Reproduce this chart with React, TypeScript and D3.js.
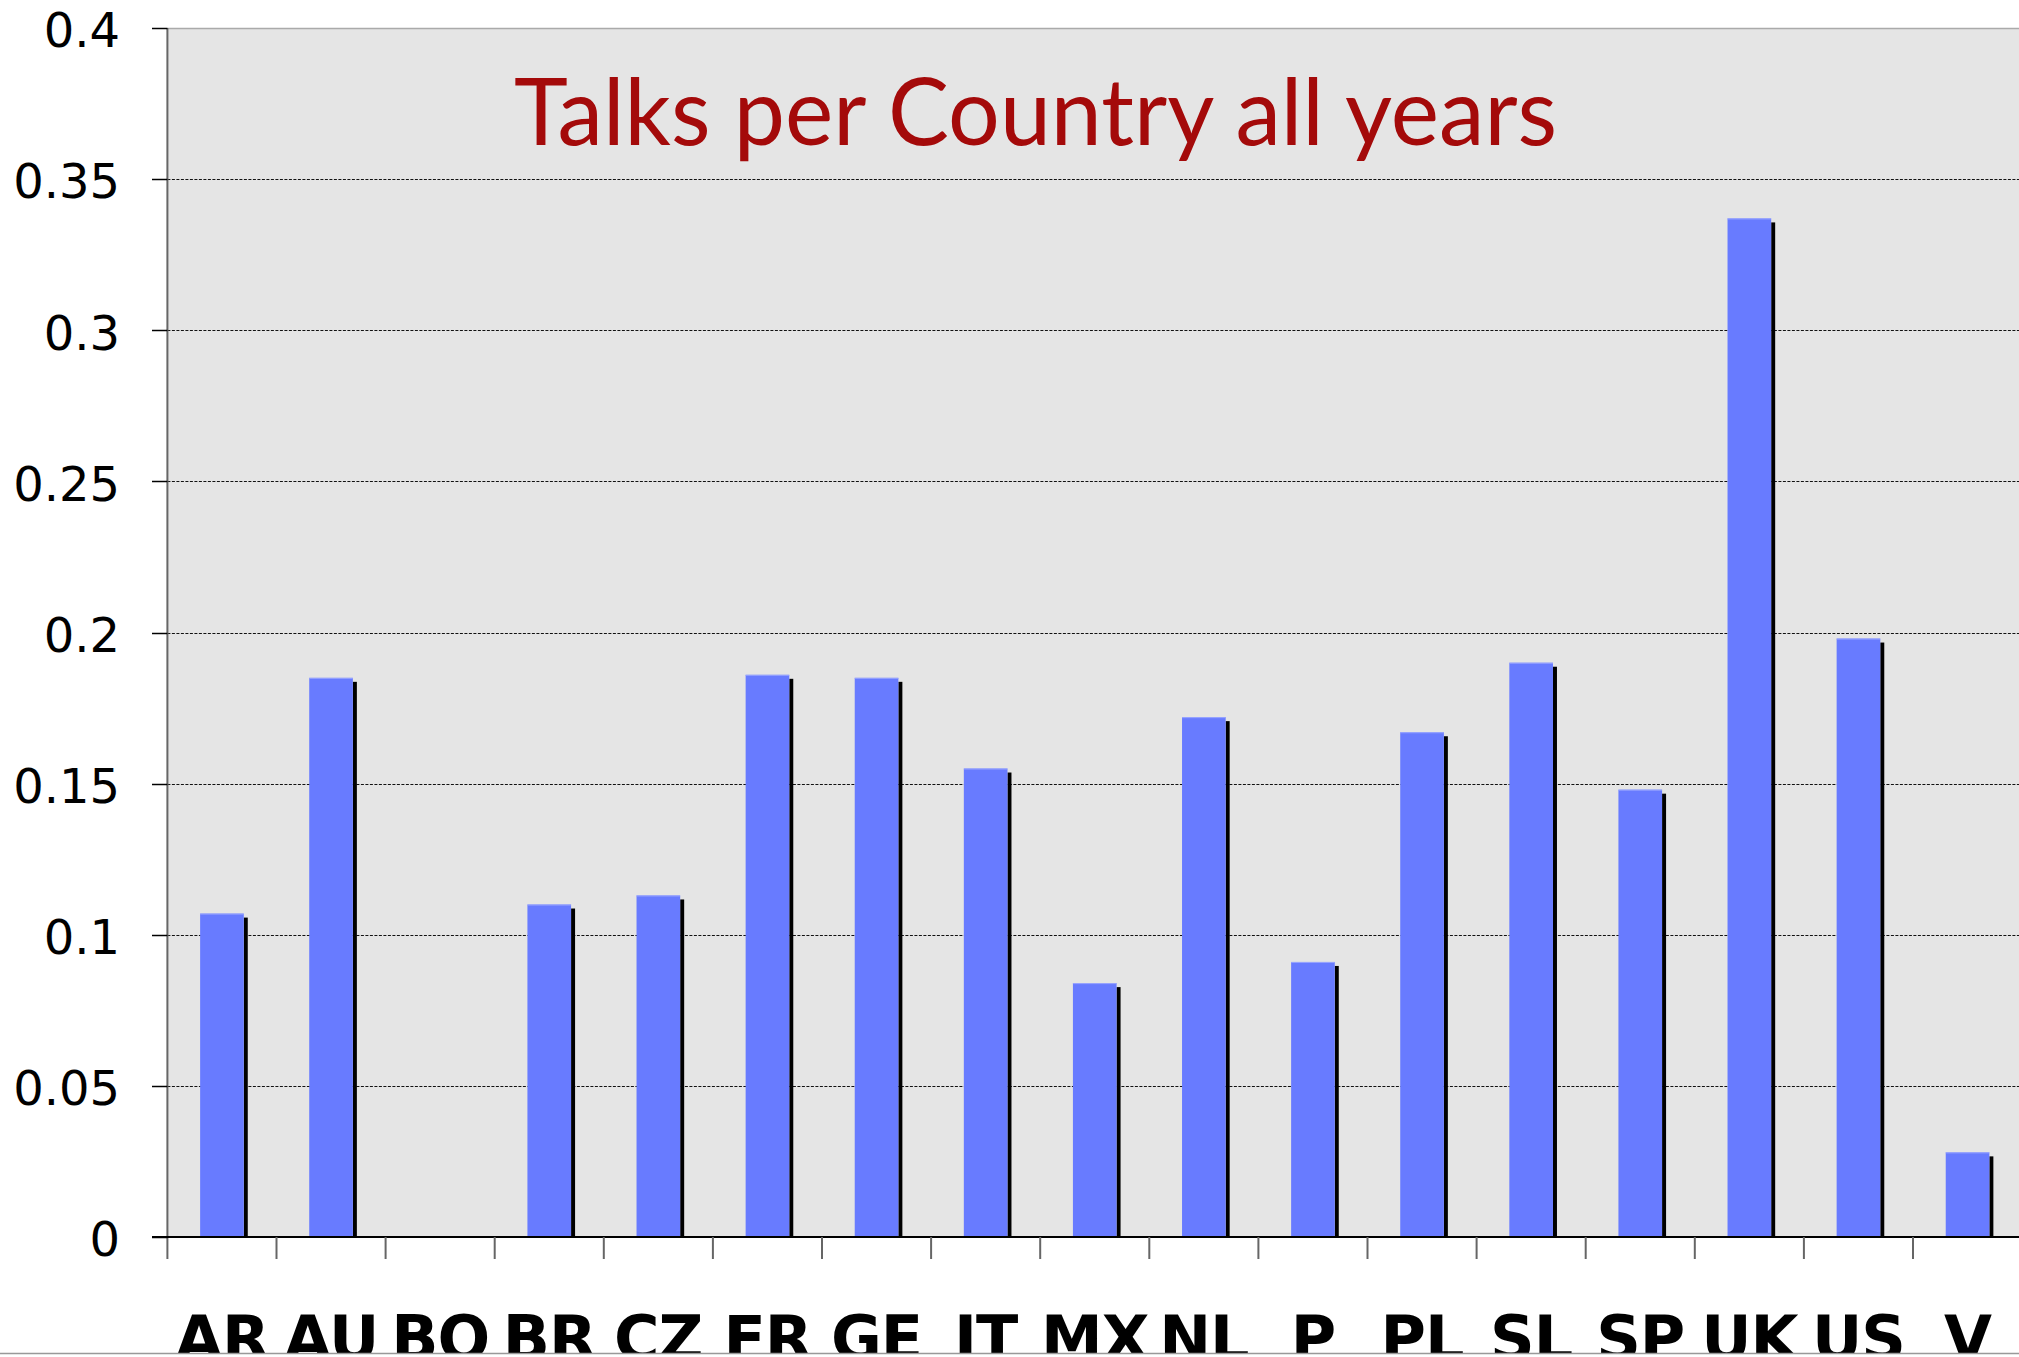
import { useEffect, useRef } from 'react';
import * as d3 from 'd3';

const countries = ['AR', 'AU', 'BO', 'BR', 'CZ', 'FR', 'GE', 'IT', 'MX', 'NL', 'P', 'PL', 'SL', 'SP', 'UK', 'US', 'V'];
const talks = [0.107, 0.185, 0, 0.110, 0.113, 0.186, 0.185, 0.155, 0.084, 0.172, 0.091, 0.167, 0.190, 0.148, 0.337, 0.198, 0.028];
const yTicks = [0, 0.05, 0.1, 0.15, 0.2, 0.25, 0.3, 0.35, 0.4];
const title = 'Talks per Country all years';

type Row = { country: string; value: number };

const App = () => {
  const svgRef = useRef<SVGSVGElement>(null);

  useEffect(() => {
    if (!svgRef.current) {
      return;
    }
    const width = 2019;
    const height = 1357;
    const left = 167.4;
    const top = 28;
    const bottom = 1237;
    const step = 109.1;
    const right = left + step * countries.length;

    const rows: Row[] = countries.map((c, i) => ({ country: c, value: talks[i] }));
    const shown = rows.filter((r) => r.value > 0);

    const svg = d3.select(svgRef.current);
    svg.selectAll('*').remove();
    svg.attr('width', width).attr('height', height);

    const x = d3.scaleBand<string>().domain(countries).range([left, right]).paddingInner(0.6).paddingOuter(0.3);
    const y = d3.scaleLinear().domain([0, 0.4]).range([bottom, top]);

    svg.append('rect').attr('width', width).attr('height', height).attr('fill', 'white');

    // plot area
    svg
      .append('rect')
      .attr('x', left)
      .attr('y', top)
      .attr('width', right - left)
      .attr('height', bottom - top)
      .attr('fill', '#e5e5e5');
    svg
      .append('line')
      .attr('x1', left)
      .attr('x2', right)
      .attr('y1', top + 0.5)
      .attr('y2', top + 0.5)
      .attr('stroke', '#aaa')
      .attr('stroke-width', 1.5);

    // gridlines
    svg
      .append('g')
      .selectAll('line')
      .data(yTicks.filter((t) => t > 0 && t < 0.4))
      .enter()
      .append('line')
      .attr('x1', left)
      .attr('x2', right)
      .attr('y1', (d) => Math.round(y(d)) + 0.5)
      .attr('y2', (d) => Math.round(y(d)) + 0.5)
      .attr('stroke', '#111')
      .attr('stroke-width', 1)
      .attr('stroke-dasharray', '3,1.5');

    // bars with shadow
    const bars = svg.append('g').selectAll<SVGGElement, Row>('g').data(shown).enter().append('g');
    bars
      .append('rect')
      .attr('x', (d) => (x(d.country) ?? 0) + x.bandwidth())
      .attr('y', (d) => y(d.value) + 4)
      .attr('width', 4)
      .attr('height', (d) => bottom - y(d.value) - 4)
      .attr('fill', '#000');
    bars
      .append('rect')
      .attr('x', (d) => x(d.country) ?? 0)
      .attr('y', (d) => y(d.value))
      .attr('width', x.bandwidth())
      .attr('height', (d) => bottom - y(d.value))
      .attr('fill', '#687bff');
    bars
      .append('line')
      .attr('x1', (d) => x(d.country) ?? 0)
      .attr('x2', (d) => (x(d.country) ?? 0) + x.bandwidth())
      .attr('y1', (d) => y(d.value) + 0.5)
      .attr('y2', (d) => y(d.value) + 0.5)
      .attr('stroke', '#9aa6ff')
      .attr('stroke-width', 1);

    // left axis
    svg
      .append('line')
      .attr('x1', left)
      .attr('x2', left)
      .attr('y1', top)
      .attr('y2', bottom + 22)
      .attr('stroke', '#666')
      .attr('stroke-width', 2);

    const yAxis = svg.append('g');
    yAxis
      .selectAll('line')
      .data(yTicks)
      .enter()
      .append('line')
      .attr('x1', 152)
      .attr('x2', left)
      .attr('y1', (d) => Math.round(y(d)) + 0.5)
      .attr('y2', (d) => Math.round(y(d)) + 0.5)
      .attr('stroke', '#000')
      .attr('stroke-width', 1.5);
    yAxis
      .selectAll('text')
      .data(yTicks)
      .enter()
      .append('text')
      .attr('x', 120)
      .attr('y', (d) => y(d) + 2)
      .attr('dy', '0.36em')
      .attr('text-anchor', 'end')
      .style('font-family', 'DejaVu Sans, Verdana, sans-serif')
      .style('font-size', '48px')
      .attr('fill', '#000')
      .text((d) => String(d));

    // baseline and category ticks
    svg
      .append('line')
      .attr('x1', 152)
      .attr('x2', right)
      .attr('y1', bottom)
      .attr('y2', bottom)
      .attr('stroke', '#000')
      .attr('stroke-width', 2);
    svg
      .append('g')
      .selectAll('line')
      .data(countries.slice(1))
      .enter()
      .append('line')
      .attr('x1', (d) => (x(d) ?? 0) - x.step() * 0.3)
      .attr('x2', (d) => (x(d) ?? 0) - x.step() * 0.3)
      .attr('y1', bottom)
      .attr('y2', bottom + 22)
      .attr('stroke', '#666')
      .attr('stroke-width', 2);

    // category labels (cut off at the bottom edge, as in the original)
    svg
      .append('defs')
      .append('clipPath')
      .attr('id', 'labelClip')
      .append('rect')
      .attr('x', 0)
      .attr('y', 0)
      .attr('width', width)
      .attr('height', 1353);
    svg
      .append('g')
      .attr('clip-path', 'url(#labelClip)')
      .selectAll('text')
      .data(countries)
      .enter()
      .append('text')
      .attr('x', (d) => (x(d) ?? 0) + x.bandwidth() / 2)
      .attr('y', 1360)
      .attr('text-anchor', 'middle')
      .style('font-family', 'DejaVu Sans, Verdana, sans-serif')
      .style('font-weight', 'bold')
      .style('font-size', '62px')
      .style('letter-spacing', '-1px')
      .attr('fill', '#000')
      .text((d) => d);
    svg
      .append('line')
      .attr('x1', 0)
      .attr('x2', width)
      .attr('y1', 1353.5)
      .attr('y2', 1353.5)
      .attr('stroke', '#999')
      .attr('stroke-width', 1.5);

    // title
    svg
      .append('text')
      .attr('x', 514)
      .attr('y', 145)
      .attr('textLength', 1043)
      .attr('lengthAdjust', 'spacingAndGlyphs')
      .style('font-family', 'Lato, sans-serif')
      .style('font-size', '94px')
      .attr('fill', '#a40a0a')
      .text(title);
  }, []);

  return <svg ref={svgRef} style={{ position: 'absolute', left: 0, top: 0, display: 'block' }} />;
};

export default App;
